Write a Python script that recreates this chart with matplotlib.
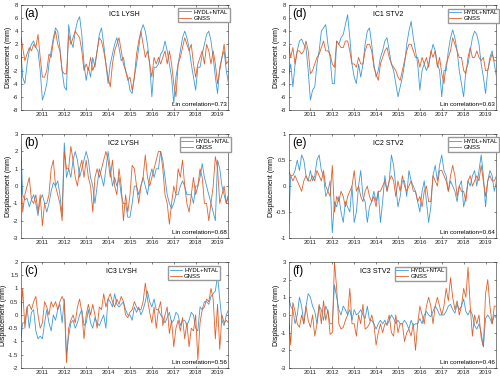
#!/usr/bin/env python3
"""Six panels: HYDL+NTAL vs GNSS displacement components."""

import numpy as np
from matplotlib import pyplot as plt

plt.rcParams["font.family"] = ["Liberation Sans", "DejaVu Sans"]

# time grid (decimal years), one reading every 0.1 yr
t = np.round(np.arange(2010.0, 2019.51, 0.1), 2)

# (a) IC1 LYSH
a_model = [2, -3, -4, -1, 1, 2, 2.5, 1.5, 1, -2,
           -6.5, -5.5, -4, -1, 1, 3, 4.5, 4, 1.5, -2,
           -4.5, -5, 5, 2.5, 1.5, 4, 5.5, 6.2, 3.5, -1,
           -3.5, -1.5, -3, 0, -1.5, 1, 3.5, 4.5, 2, -1,
           -4, -1, 0.5, 2, 3, 1.5, -0.5, 0, -2, -3,
           -5, -5.5, -3, -1, 1.5, 4, 5, 4, 2, -1,
           -6, -1.5, -1.5, -1, 0.5, 1, 2.5, 1, -1, -3,
           -7, -3, -1, 1, 3, 4, 3, 1.5, -1, -3,
           -5, -1.5, -1.5, 0.5, 2, 3.5, 4, 2.5, 0, -3,
           -5.5, -1.5, 0, 1, -2, -4]
a_gnss = [3.5, 1.5, -0.5, 0.5, 1.5, 1, 2, 1.5, 3.5, 0,
          -3, -3, -2, 0.5, 0, 2.5, 4, 2, 1, -2,
          -2.5, -2.5, 3.5, 2, 3, 4, 3.5, 3, 1, -2,
          -1, -2, 0, -2, -1, 1, 3, 2.5, 1, -1,
          -3, -4.5, -1, 1, 2, 3, 1, -1, -2, -3.5,
          -3, -5, -3, 0.5, 2.5, 4, 2, 0, 1, -1,
          -3, 0, -1, 0, -1, 0, 1, -1, 1, -1,
          -4, -6, -1, 0, 1.5, 3, 2, 1, 2, -1,
          -3, -1, 0, 1, -1, 2, 1, -1, 1, -1,
          -4, -2, 0, 2, -1, -0.5]

# (d) IC1 STV2
d_model = [-3, -1, -4.5, -1, 1, 2.5, 2.8, 2, 1.5, -2,
           -6.5, -5, -4.5, -1, 1, 4, 4.5, 5, 2, 0,
           -4, -4, 2.5, 2, 3, 3.5, 5, 6.5, 3, -1,
           -3, -4, -1, -3, -1, 2, 4, 4.5, 2, -1,
           -3, -2, 0, 1, 2.5, 3, 1, -1, -2, -4,
           -6, -4.5, -3, -1, 2, 4, 5.5, 3, 1, -1,
           -5, -2, -1, -2, -1, 0.5, 2, 1, -1, -2,
           -6, -2, -2, 1, 3, 4.2, 3, 1, -2, -4,
           -6, -2, -1, 1, 3, 4, 3.5, 2, -1, -3,
           -5.5, -2, 0, 1, -1, -3]
d_gnss = [2, 0, 1.5, -1, 1, 1, 0.5, 1, 2.5, 1,
          -2.5, -2, -1, 0, 0.5, 1.5, 2.5, 1, 1, 0.5,
          -1, -1.5, 2.5, 2, 1.5, 1.5, 2.5, 2.5, 1, -1,
          -1, -1.5, 0, -1, -1, 1, 2, 2, 1, -1.5,
          -2.5, -3.5, -1, 0, 1, 1.5, 0, -1, -1.5, -2,
          -3, -3.5, -2, -0.5, 1, 2, 2, 1, 0, 0,
          -1.5, 0, -1, 0, -1.5, 1, 0, 1, -1.5, 0,
          -2.5, -4, -1, 0, 1, 3, 2, 1, 0, 0,
          -2, -2.5, 0, 1.5, 0, 0, 1, 0, -0.5, 0,
          -2, -2, -0.5, 0.5, -0.5, -0.5]

# (b) IC2 LYSH
b_model = [2.8, -0.5, -0.8, -0.7, -1.2, -0.8, -0.5, -1, -1.7, -0.8,
           -0.5, -1, -1.5, -1, -0.3, 0.2, 0, 0.3, -0.5, -1.7,
           2.5, 0.5, 1, 0.5, 1.5, 2, 1.5, 0.5, 1, 1.5,
           2, 1.5, 0.5, 0, -1, 0, 1, 0.5, 0, 1,
           2, 1, 0, 0.5, 0, 0.5, -0.5, -1, -1, -1.8,
           -1.8, -1, 0, 0, -0.5, 0, 0.5, 0, -0.5, 0.5,
           1, 0.5, 1, 1, 2, 1.5, 0.5, -0.5, -1, -1.3,
           -1, -0.5, -0.5, 0, 0.3, 0, -0.5, -0.5, -0.5, -1,
           0, 0, 0.5, 1.3, 0.5, 0, -0.5, -1, -1.5, -2,
           1.5, 1, 0, -0.5, -1, -0.5]
b_gnss = [1, -1.5, -0.5, 0, 0.5, -0.8, -1, -0.5, -1.5, -0.5,
          -2.3, -1, -1, -0.5, 1, 1.5, 0, -0.5, -1, -2,
          2, 1, 1, 2.3, 1.5, 0.5, 0, 1, 1.5, 0.5,
          1.5, 0.5, 0, -1.5, 0.5, 1, 0.5, 1, 1.5, 2,
          1.5, 0.5, 1.5, 0, -0.5, 1, 0, -2, -0.5, -1.5,
          -0.5, 1.2, 1, 0, -1, 0, 0.5, 1.8, 0.5, 0,
          0.5, 1, 1.5, 2, 2, 1, -0.5, -1, -2.2, -1,
          0, -0.5, 1, 0.5, 1.5, 0, -1, -1.5, -0.5, 0.5,
          -0.5, 0, 1, 0.5, -1, -1, -2, -1, 0, 1.7,
          1, -1, -0.5, 0, -1, -0.5]

# (e) IC2 STV2
e_model = [-0.8, 0.2, 0.2, 0.3, 0.5, 0.3, 0.6, 0.5, 0.2, 0.1,
           0.3, 0.1, 0.2, 0.5, 0.6, 0.3, 0.2, -0.2, -0.1, 0.1,
           -0.9, -0.3, -0.4, -0.2, -0.5, -0.7, -0.3, -0.4, -0.5, 0,
           -0.7, -0.5, 0, 0.3, -0.2, -0.3, -0.7, -0.4, -0.3, -0.1,
           -0.3, -0.1, -0.7, -0.3, 0.2, -0.1, 0.1, 0.6, 0.4, 0,
           -0.4, -0.2, 0.1, 0.1, -0.2, 0.3, 0.1, 0, -0.1, -0.3,
           -0.5, -0.1, 0.1, -0.3, -0.7, -0.4, 0.2, 0.4, 0.1, 0.4,
           0.6, 0.3, 0.2, -0.1, 0.1, 0, -0.1, -0.3, 0, 0.1,
           -0.4, -0.2, 0.1, 0, 0.2, 0.3, 0, 0.3, 0.6, 0.2,
           -0.4, 0.1, 0.3, 0.2, -0.1, 0.1]
e_gnss = [0.3, 0.2, 0.1, 0.2, 0.1, 0, -0.1, 0.1, 0.2, 0.1,
          0.1, 0.2, 0.1, 0.3, 0.2, 0.1, 0.3, 0, -0.1, -0.2,
          0.4, -0.5, -0.2, -0.3, -0.1, -0.2, -0.4, -0.2, -0.1, 0,
          0.3, -0.1, 0, -0.2, -0.3, -0.1, 0, -0.2, -0.3, -0.2,
          -0.4, -0.1, -0.1, 0, 0.1, -0.1, 0.1, 0.2, 0.1, -0.2,
          0.1, -0.1, 0.2, 0, -0.1, 0, 0.1, -0.1, -0.1, -0.3,
          -0.2, -0.4, -0.1, 0, -0.3, -0.3, 0.2, 0.1, 0, 0.3,
          0.3, 0.2, 0.1, -0.1, 0.2, 0.4, 0.2, -0.2, 0, -0.1,
          -0.1, -0.3, 0.1, 0.2, 0, 0.1, 0.2, 0.1, 0.4, 0.1,
          -0.2, 0.1, 0.2, 0.1, 0.1, 0.2]

# (c) IC3 LYSH
c_model = [-1, -0.3, -0.3, 0.3, -0.5, 0.1, 0.2, -0.6, -0.9, -0.8,
           -0.9, -0.3, 0.2, -0.3, -0.6, 0, -0.2, 0.2, 0.4, -0.3,
           0.6, -1.5, -0.8, -0.3, -0.2, -0.5, -0.3, 0, 0.2, -0.4,
           -0.3, 0.2, -0.3, -0.5, -0.1, -0.3, -0.4, -0.2, 0, -0.5,
           0.6, 0.5, 0.3, 0.8, 0.4, 0.3, 0.4, 0.5, 0.2, 0,
           0, -0.2, 0.3, 0.1, 0.3, 0, 0.2, 0.5, 0.9, 0.5,
           0.3, 0.6, 0.2, 0.2, 0, -0.1, -0.3, -0.1, 0.1, -0.3,
           -0.2, 0.1, 0, -0.4, -0.2, -0.2, -0.4, -0.2, 0.1, 0,
           -0.5, -0.6, 0.3, 0.2, 0.5, 0.5, 0.4, 0.7, 0.8, 0.9,
           1.5, 0.6, -0.2, -0.4, 0, 0.2]
c_gnss = [-0.2, 1.0, -0.5, 0.3, 0.4, 0.2, 0.5, 0.7, 0, -0.5,
          -0.3, 0.5, 0.3, 0, 0.5, 0.3, 0.5, 0.2, 0.5, 0.7,
          0.5, -1.8, -0.5, -0.2, 0, -0.3, 0.3, 0.6, 0.1, -0.9,
          0, 0.4, 0, 0.4, 0, -0.5, 0.3, 0.2, 0.8, 0.3,
          0.6, 0.8, 0.5, 0.3, 0.6, 0.4, 0.7, 0.5, 0, -0.1,
          0.1, 0.2, 0.5, 0.3, 0.2, 0.2, 0.5, 1.2, 0.6, 0.1,
          -0.3, 0.3, -0.5, 0.2, 0.5, -0.4, 0, 0.3, -0.7, -0.2,
          -1.2, -0.5, -0.2, -0.6, -0.1, -0.9, -0.3, -1.2, -0.5, -0.6,
          0, -1.7, -0.3, 0.2, 0.3, 0.6, 0.5, 1, 0.6, -0.9,
          0.4, -1.3, 0, -0.3, -0.2, -0.3]

# (f) IC3 STV2
f_model = [1.1, 0.5, 0.3, -0.5, 0, 1, 0.5, -0.5, 0.5, 1.2,
           1, 0.5, 0.2, -0.5, 0.5, 0.3, -0.3, 0.5, 0.2, -0.5,
           -0.5, 1.7, 1.0, 0.3, 0, 0.5, 0.3, 0, 0.3, -0.3,
           0.3, 0, 0.1, 0.3, 0, -0.2, 0.5, -0.3, -0.3, -0.5,
           -0.8, -0.5, -0.3, -0.5, -0.3, -0.6, -0.3, 0, -0.2, -0.5,
           -0.3, -0.5, -0.5, -0.3, -0.5, -0.8, -0.3, -0.6, -0.5, -0.5,
           -0.2, -0.5, 0, 0.2, 0, -0.1, 0.2, 0.5, 0.3, 0,
           0, 0, 0.2, 0.5, 0.6, 0.3, 0.1, 0.6, 0.3, 0.5,
           0.9, 0.2, 0, 0.3, 0, -0.6, -0.8, -0.5, -1, -1.8,
           -0.2, 0, -0.2, -0.5, 0, -0.2]
f_gnss = [0, -1.7, 0.7, 0.2, -0.5, -0.7, 0, -0.5, 0.5, -0.3,
          -0.7, 0, -1.2, -0.5, 0.6, -0.5, 0.8, -0.3, 0.3, -1.1,
          -1, 3.0, 1.5, -0.5, -0.8, -0.7, -0.3, 0, 1.5, -0.5,
          -0.5, -1.2, 0, -0.5, 0.6, -0.8, -0.7, -0.5, 0, -0.5,
          -1.7, -1, -0.5, -1, -0.5, -0.5, 0, -1, -1.2, 0,
          -1, -0.5, -0.5, -1.5, -1, -0.8, -1.2, -0.5, -2.0, -0.5,
          0.5, 0, -0.5, 0.5, 1.0, 0.5, -0.5, 0.5, 1, 0.5,
          0, 0.5, 1.5, 0.8, 2.1, 1, 0.3, 0.8, 0, 0.5,
          1.5, 1, 2.7, 0.5, -1.2, 0, -0.5, 0, -1.3, -1.8,
          1.2, 2.0, 0.5, -0.5, 0.5, 0.5]

panels = [
    # letter, title, model, gnss, ylim, ystep, corr, rect, title x, legend anchor
    ("(a)", "IC1 LYSH", a_model, a_gnss, 8, 2, 0.73,
     [0.041, 0.710, 0.416, 0.277], 0.50, (0.757, 0.972)),
    ("(d)", "IC1 STV2", d_model, d_gnss, 8, 2, 0.63,
     [0.577, 0.710, 0.416, 0.277], 0.48, (0.765, 0.965)),
    ("(b)", "IC2 LYSH", b_model, b_gnss, 3, 1, 0.68,
     [0.041, 0.372, 0.416, 0.274], 0.495, (0.765, 0.97)),
    ("(e)", "IC2 STV2", e_model, e_gnss, 1, 0.5, 0.64,
     [0.577, 0.372, 0.416, 0.274], 0.48, (0.765, 0.97)),
    ("(c)", "IC3 LYSH", c_model, c_gnss, 2, 0.5, 0.56,
     [0.041, 0.029, 0.416, 0.280], 0.486, (0.71, 0.96)),
    ("(f)", "IC3 STV2", f_model, f_gnss, 3, 1, 0.46,
     [0.577, 0.029, 0.416, 0.280], 0.415, (0.51, 0.955)),
]

blue = "#3d9ad8"
orange = "#e0602a"
years = list(range(2011, 2020))

fig = plt.figure(figsize=(5, 3.79), dpi=100)

for letter, title, model, gnss, ymax, ystep, corr, rect, tx, anchor in panels:
    ax = fig.add_axes(rect)
    ax.plot(t, model, color=blue, lw=0.6, label="HYDL+NTAL")
    ax.plot(t, gnss, color=orange, lw=0.6, label="GNSS")
    ax.set_xlim(2010.0, 2019.5)
    ax.set_ylim(-ymax, ymax)
    ax.set_xticks(years)
    ax.set_xticklabels([str(y) for y in years])
    ax.set_yticks(np.arange(-ymax, ymax + ystep / 2, ystep))
    ax.yaxis.set_major_formatter(plt.FuncFormatter(lambda v, p: f"{v:g}"))
    ax.tick_params(direction="in", length=1.5, width=0.4, labelsize=4.3,
                   pad=1.5, colors="#262626", top=True, right=True)
    for sp in ax.spines.values():
        sp.set_linewidth(0.4)
        sp.set_color("#262626")
    ax.set_ylabel("Displacement (mm)", fontsize=5, labelpad=1)
    ax.text(0.02, 0.97, letter, transform=ax.transAxes, fontsize=8.5,
            va="top", ha="left")
    ax.text(tx, 0.945, title, transform=ax.transAxes, fontsize=5,
            va="top", ha="center")
    ax.text(0.99, 0.025, "Lin correlation=%.2f" % corr,
            transform=ax.transAxes, fontsize=4.5, va="bottom", ha="right")
    ax.legend(loc="upper left", bbox_to_anchor=anchor, fontsize=4.3,
              frameon=True, fancybox=False, edgecolor="#999999",
              framealpha=1, handlelength=2.0, handletextpad=0.4,
              borderpad=0.25, labelspacing=0.15, borderaxespad=0)

plt.savefig("out.png", dpi=100)
